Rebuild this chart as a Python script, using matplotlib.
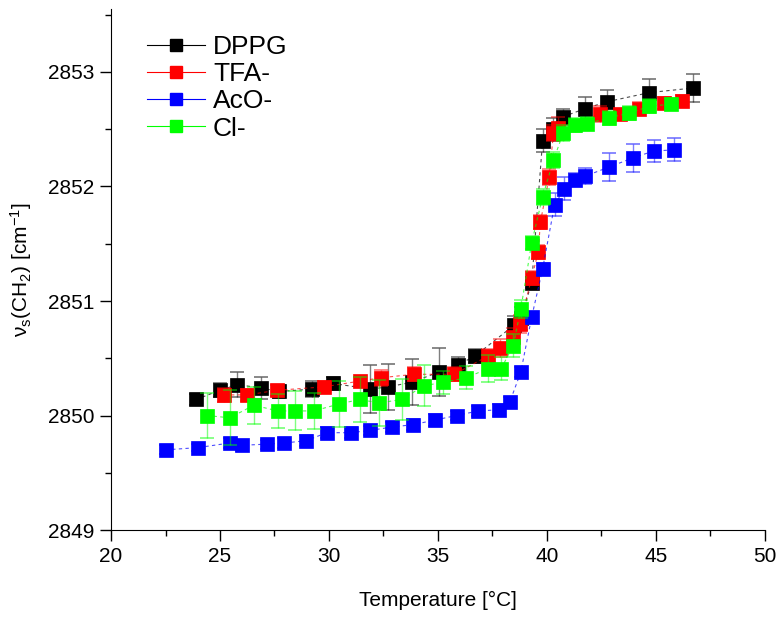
import numpy as np
import matplotlib
matplotlib.use('Agg')
from matplotlib import pyplot as plt
from matplotlib.lines import Line2D

# DPPG
dppg_t = [23.9, 25.0, 25.8, 26.9, 27.7, 29.2, 30.2, 31.9, 32.7, 33.8, 35.05, 35.9, 36.7,
          38.5, 38.8, 39.3, 39.8, 40.3, 40.75, 41.75, 42.75, 44.7, 46.7]
dppg_v = [2850.14, 2850.22, 2850.27, 2850.24, 2850.21, 2850.23, 2850.28, 2850.23, 2850.25,
          2850.29, 2850.38, 2850.44, 2850.52, 2850.79, 2850.85, 2851.16, 2852.40, 2852.50,
          2852.61, 2852.68, 2852.74, 2852.82, 2852.86]
dppg_e = [0.05, 0.06, 0.11, 0.1, 0.06, 0.07, 0.06, 0.21, 0.2, 0.2, 0.21, 0.07, 0.06,
          0.08, 0.1, 0.05, 0.1, 0.1, 0.07, 0.1, 0.1, 0.12, 0.12]

# TFA-
tfa_t = [25.2, 26.25, 27.6, 29.75, 31.4, 32.4, 33.9, 35.75, 37.3, 37.85, 38.45, 38.75,
         39.3, 39.6, 39.7, 40.1, 40.3, 40.5, 42.45, 43.35, 44.2, 45.35, 46.2]
tfa_v = [2850.18, 2850.18, 2850.22, 2850.25, 2850.30, 2850.33, 2850.36, 2850.36, 2850.52,
         2850.59, 2850.69, 2850.80, 2851.20, 2851.43, 2851.69, 2852.08, 2852.47, 2852.51,
         2852.63, 2852.63, 2852.68, 2852.73, 2852.75]
tfa_e = [0.06, 0.05, 0.05, 0.05, 0.04, 0.07, 0.06, 0.06, 0.06, 0.08, 0.07, 0.08, 0.06,
         0.06, 0.06, 0.07, 0.07, 0.1, 0.07, 0.05, 0.06, 0.05, 0.05]

# AcO-
aco_t = [22.5, 24.0, 25.45, 26.0, 27.15, 27.95, 28.95, 29.9, 31.0, 31.9, 32.9, 33.85,
         34.85, 35.85, 36.85, 37.8, 38.3, 38.8, 39.3, 39.8, 40.35, 40.8, 41.3, 41.75,
         42.85, 43.95, 44.9, 45.85]
aco_v = [2849.70, 2849.72, 2849.76, 2849.74, 2849.75, 2849.76, 2849.78, 2849.85, 2849.85,
         2849.87, 2849.90, 2849.92, 2849.96, 2850.00, 2850.04, 2850.05, 2850.12, 2850.38,
         2850.86, 2851.28, 2851.84, 2851.98, 2852.06, 2852.09, 2852.17, 2852.25, 2852.31,
         2852.32]
aco_e = [0.04, 0.03, 0.04, 0.05, 0.04, 0.04, 0.05, 0.05, 0.05, 0.04, 0.04, 0.05, 0.05,
         0.04, 0.04, 0.05, 0.04, 0.04, 0.04, 0.05, 0.1, 0.1, 0.06, 0.07, 0.12, 0.12,
         0.1, 0.1]

# Cl-
cl_t = [24.4, 25.45, 26.55, 27.65, 28.45, 29.3, 30.45, 31.4, 32.3, 33.35, 34.35, 35.25,
        36.3, 37.3, 37.9, 38.45, 38.8, 39.3, 39.8, 40.3, 40.75, 41.3, 41.85, 42.85, 43.75,
        44.7, 45.7]
cl_v = [2850.00, 2849.98, 2850.09, 2850.04, 2850.04, 2850.04, 2850.10, 2850.14, 2850.11,
        2850.14, 2850.26, 2850.29, 2850.33, 2850.41, 2850.41, 2850.61, 2850.93, 2851.51,
        2851.91, 2852.23, 2852.47, 2852.54, 2852.55, 2852.60, 2852.64, 2852.70, 2852.72]
cl_e = [0.2, 0.24, 0.16, 0.15, 0.17, 0.16, 0.2, 0.2, 0.2, 0.18, 0.18, 0.1, 0.1, 0.12,
        0.1, 0.1, 0.08, 0.06, 0.07, 0.07, 0.07, 0.06, 0.06, 0.06, 0.06, 0.06, 0.05]

labels = ['DPPG', 'TFA-', 'AcO-', 'Cl-']
colors = ['#000000', '#ff0000', '#0000ff', '#00ff00']

plt.rcParams['font.family'] = ['Liberation Sans', 'DejaVu Sans']
plt.rcParams['mathtext.fontset'] = 'custom'
plt.rcParams['mathtext.rm'] = 'Liberation Sans'
plt.rcParams['mathtext.it'] = 'Liberation Sans:italic'
plt.rcParams['mathtext.default'] = 'regular'

fig = plt.figure(figsize=(7.78, 6.21), dpi=100)
ax = fig.add_axes([0.1427, 0.1465, 0.8405, 0.839])

series = [(dppg_t, dppg_v, dppg_e), (tfa_t, tfa_v, tfa_e),
          (aco_t, aco_v, aco_e), (cl_t, cl_v, cl_e)]
for (t, v, e), c in zip(series, colors):
    ax.errorbar(t, v, yerr=e, fmt='none', ecolor=c, elinewidth=1.0,
                capsize=5, capthick=1.3, alpha=0.5)
    ax.plot(t, v, color=c, lw=0.8, ls=(0, (3, 3)), alpha=0.7)
    ax.plot(t, v, ls='none', marker='s', ms=9.5, mfc=c, mec=c, mew=0.5)

ax.set_xlim(20, 50)
ax.set_ylim(2849, 2853.55)
ax.set_xticks(np.arange(20, 51, 5))
ax.set_xticks(np.arange(22.5, 50, 5), minor=True)
ax.set_yticks([2849, 2850, 2851, 2852, 2853])
ax.set_yticks([2849.5, 2850.5, 2851.5, 2852.5, 2853.5], minor=True)
ax.spines['top'].set_visible(False)
ax.spines['right'].set_visible(False)
ax.tick_params(which='major', direction='out', length=8, width=1, labelsize=15, pad=4)
ax.tick_params(which='minor', direction='out', length=4, width=1)

ax.set_xlabel('Temperature [°C]', fontsize=15, labelpad=18)
ax.set_ylabel('ν$_s$(CH$_2$) [cm$^{-1}$]', fontsize=15, labelpad=10)

handles = [Line2D([], [], color=c, lw=0.8, marker='s', ms=9, mfc=c, mec=c)
           for c in colors]
ax.legend(handles, labels, loc='upper left', bbox_to_anchor=(0.055, 0.95),
          frameon=False, fontsize=19, handlelength=2.2, labelspacing=0.12,
          handletextpad=0.3, borderpad=0, borderaxespad=0)

fig.savefig('out.png', dpi=100)
